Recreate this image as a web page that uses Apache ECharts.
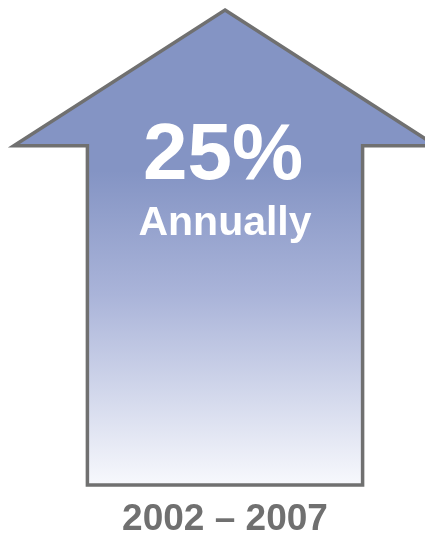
<!DOCTYPE html>
<html>
<head>
    <meta charset="utf-8">
    <title>ECharts</title>
    <script type="text/javascript" src="https://cdn.jsdelivr.net/npm/echarts@6/dist/echarts.min.js"></script>
    <style>
        html, body { margin: 0; padding: 0; background: #fff; }
    </style>
</head>
<body>
    <div id="main" style="width: 425px;height:535px;"></div>
    <script type="text/javascript">
        // 数据
        var periods = ['2002 – 2007'];
        var growthRates = [25];
        var captions = ['Annually'];

        var myChart = echarts.init(document.getElementById('main'));

        // 箭头形状: 以类目宽度和数值高度为基准
        function renderArrow(params, api) {
            var tip = api.coord([api.value(0), api.value(1)]);
            var base = api.coord([api.value(0), 0]);
            var band = api.size([1, 0])[0];
            var cx = tip[0];
            var shaftHalf = band * 0.344;
            var headHalf = band * 0.528;
            var shoulderY = base[1] + (tip[1] - base[1]) * 0.714;
            var pts = [
                [cx, tip[1]],
                [cx + headHalf, shoulderY],
                [cx + shaftHalf, shoulderY],
                [cx + shaftHalf, base[1]],
                [cx - shaftHalf, base[1]],
                [cx - shaftHalf, shoulderY],
                [cx - headHalf, shoulderY]
            ];
            return {
                type: 'group',
                children: [{
                    type: 'polygon',
                    shape: { points: pts },
                    style: {
                        fill: {
                            type: 'linear', x: 0, y: 0, x2: 0, y2: 1,
                            colorStops: [
                                { offset: 0, color: '#8494c4' },
                                { offset: 0.34, color: '#8494c4' },
                                { offset: 0.6, color: '#aab4d9' },
                                { offset: 1, color: '#f8f9fd' }
                            ]
                        },
                        stroke: '#707070',
                        lineWidth: 3.5,
                        lineJoin: 'miter'
                    }
                }, {
                    type: 'text',
                    style: {
                        text: api.value(1) + '%',
                        x: cx - 2,
                        y: shoulderY + 11,
                        fill: '#fff',
                        font: 'bold 80px "Liberation Sans", Arial, sans-serif',
                        align: 'center',
                        verticalAlign: 'middle'
                    }
                }, {
                    type: 'text',
                    style: {
                        text: captions[params.dataIndex],
                        x: cx,
                        y: shoulderY + 78,
                        fill: '#fff',
                        font: 'bold 41px "Liberation Sans", Arial, sans-serif',
                        align: 'center',
                        verticalAlign: 'middle'
                    }
                }]
            };
        }

        var option = {
            animation: false,
            grid: { left: 25, right: 0, top: 10, bottom: 50, outerBoundsMode: 'none', containLabel: false },
            xAxis: {
                type: 'category',
                data: periods,
                axisLine: { show: false },
                axisTick: { show: false },
                axisLabel: {
                    margin: 16,
                    color: '#707070',
                    fontSize: 37,
                    fontWeight: 'bold',
                    fontFamily: 'Liberation Sans'
                }
            },
            yAxis: {
                type: 'value',
                min: 0,
                max: 25,
                show: false
            },
            series: [{
                type: 'custom',
                clip: false,
                renderItem: renderArrow,
                data: periods.map(function (p, i) { return [i, growthRates[i]]; })
            }]
        };
        myChart.setOption(option);
    </script>
</body>
</html>
